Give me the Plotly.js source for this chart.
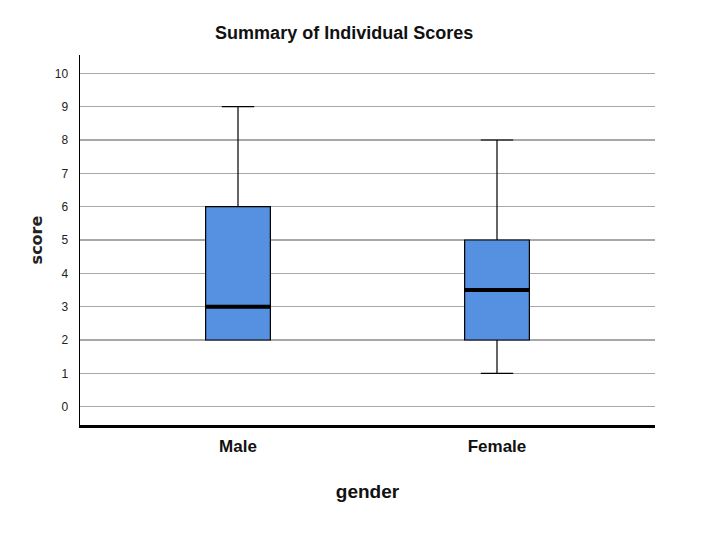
<!DOCTYPE html>
<html>
<head>
<meta charset="utf-8">
<script src="https://cdn.plot.ly/plotly-3.0.1.min.js"></script>
<style>html,body{margin:0;padding:0;background:#fff;}#chart{width:720px;height:540px;}</style>
</head>
<body>
<div id="chart"></div>
<script>
const categories = ['Male', 'Female'];
const lowerFence = [2, 1];
const q1 = [2, 2];
const median = [3, 3.5];
const q3 = [6, 5];
const upperFence = [9, 8];
const yTicks = [0, 1, 2, 3, 4, 5, 6, 7, 8, 9, 10];

const boxWidth = 0.25;
const narrow = '"Liberation Sans Narrow", "Arial Narrow", "Liberation Sans", Arial, sans-serif';

const trace = {
  type: 'box',
  x: categories,
  q1: q1,
  median: median,
  q3: q3,
  lowerfence: lowerFence,
  upperfence: upperFence,
  width: boxWidth,
  whiskerwidth: 0.5,
  fillcolor: '#5591e0',
  line: {color: '#000000', width: 1.2},
  boxpoints: false,
  hoverinfo: 'skip',
  showlegend: false
};

const shapes = categories.map((c, i) => ({
  type: 'line', xref: 'x', yref: 'y',
  x0: i - boxWidth / 2, x1: i + boxWidth / 2,
  y0: median[i], y1: median[i],
  line: {color: '#000000', width: 4}
}));

const layout = {
  width: 720, height: 540,
  paper_bgcolor: '#ffffff', plot_bgcolor: '#ffffff',
  margin: {l: 80, r: 65, t: 55, b: 115},
  title: {text: '<b>Summary of Individual Scores</b>', x: 0.478, xanchor: 'center', y: 0.94, yanchor: 'middle',
          font: {family: narrow, size: 18, color: '#111111'}},
  xaxis: {
    type: 'category', range: [-0.61, 1.61],
    showgrid: false, zeroline: false,
    showline: true, linecolor: '#000000', linewidth: 2.5,
    ticks: '', tickfont: {family: narrow, size: 17, color: '#111111'},
    ticklabelstandoff: 4,
    tickvals: categories, ticktext: categories.map(c => '<b>' + c + '</b>'),
    title: {text: '<b>gender</b>', font: {family: narrow, size: 19, color: '#111111'}, standoff: 30}
  },
  yaxis: {
    range: [-0.55, 10.55],
    tickvals: yTicks, ticktext: yTicks.map(String),
    showgrid: true, gridcolor: '#a8a8a8', gridwidth: 1.2,
    zeroline: false,
    showline: true, linecolor: '#000000', linewidth: 1.5,
    ticks: '', tickfont: {family: narrow, size: 12, color: '#222222'},
    ticklabelstandoff: 8,
    title: {text: '<b>score</b>', font: {family: '"DejaVu Sans", Arial, sans-serif', size: 16, color: '#222222'}, standoff: 8}
  },
  shapes: shapes
};

Plotly.newPlot('chart', [trace], layout, {displayModeBar: false, staticPlot: true});
</script>
</body>
</html>
